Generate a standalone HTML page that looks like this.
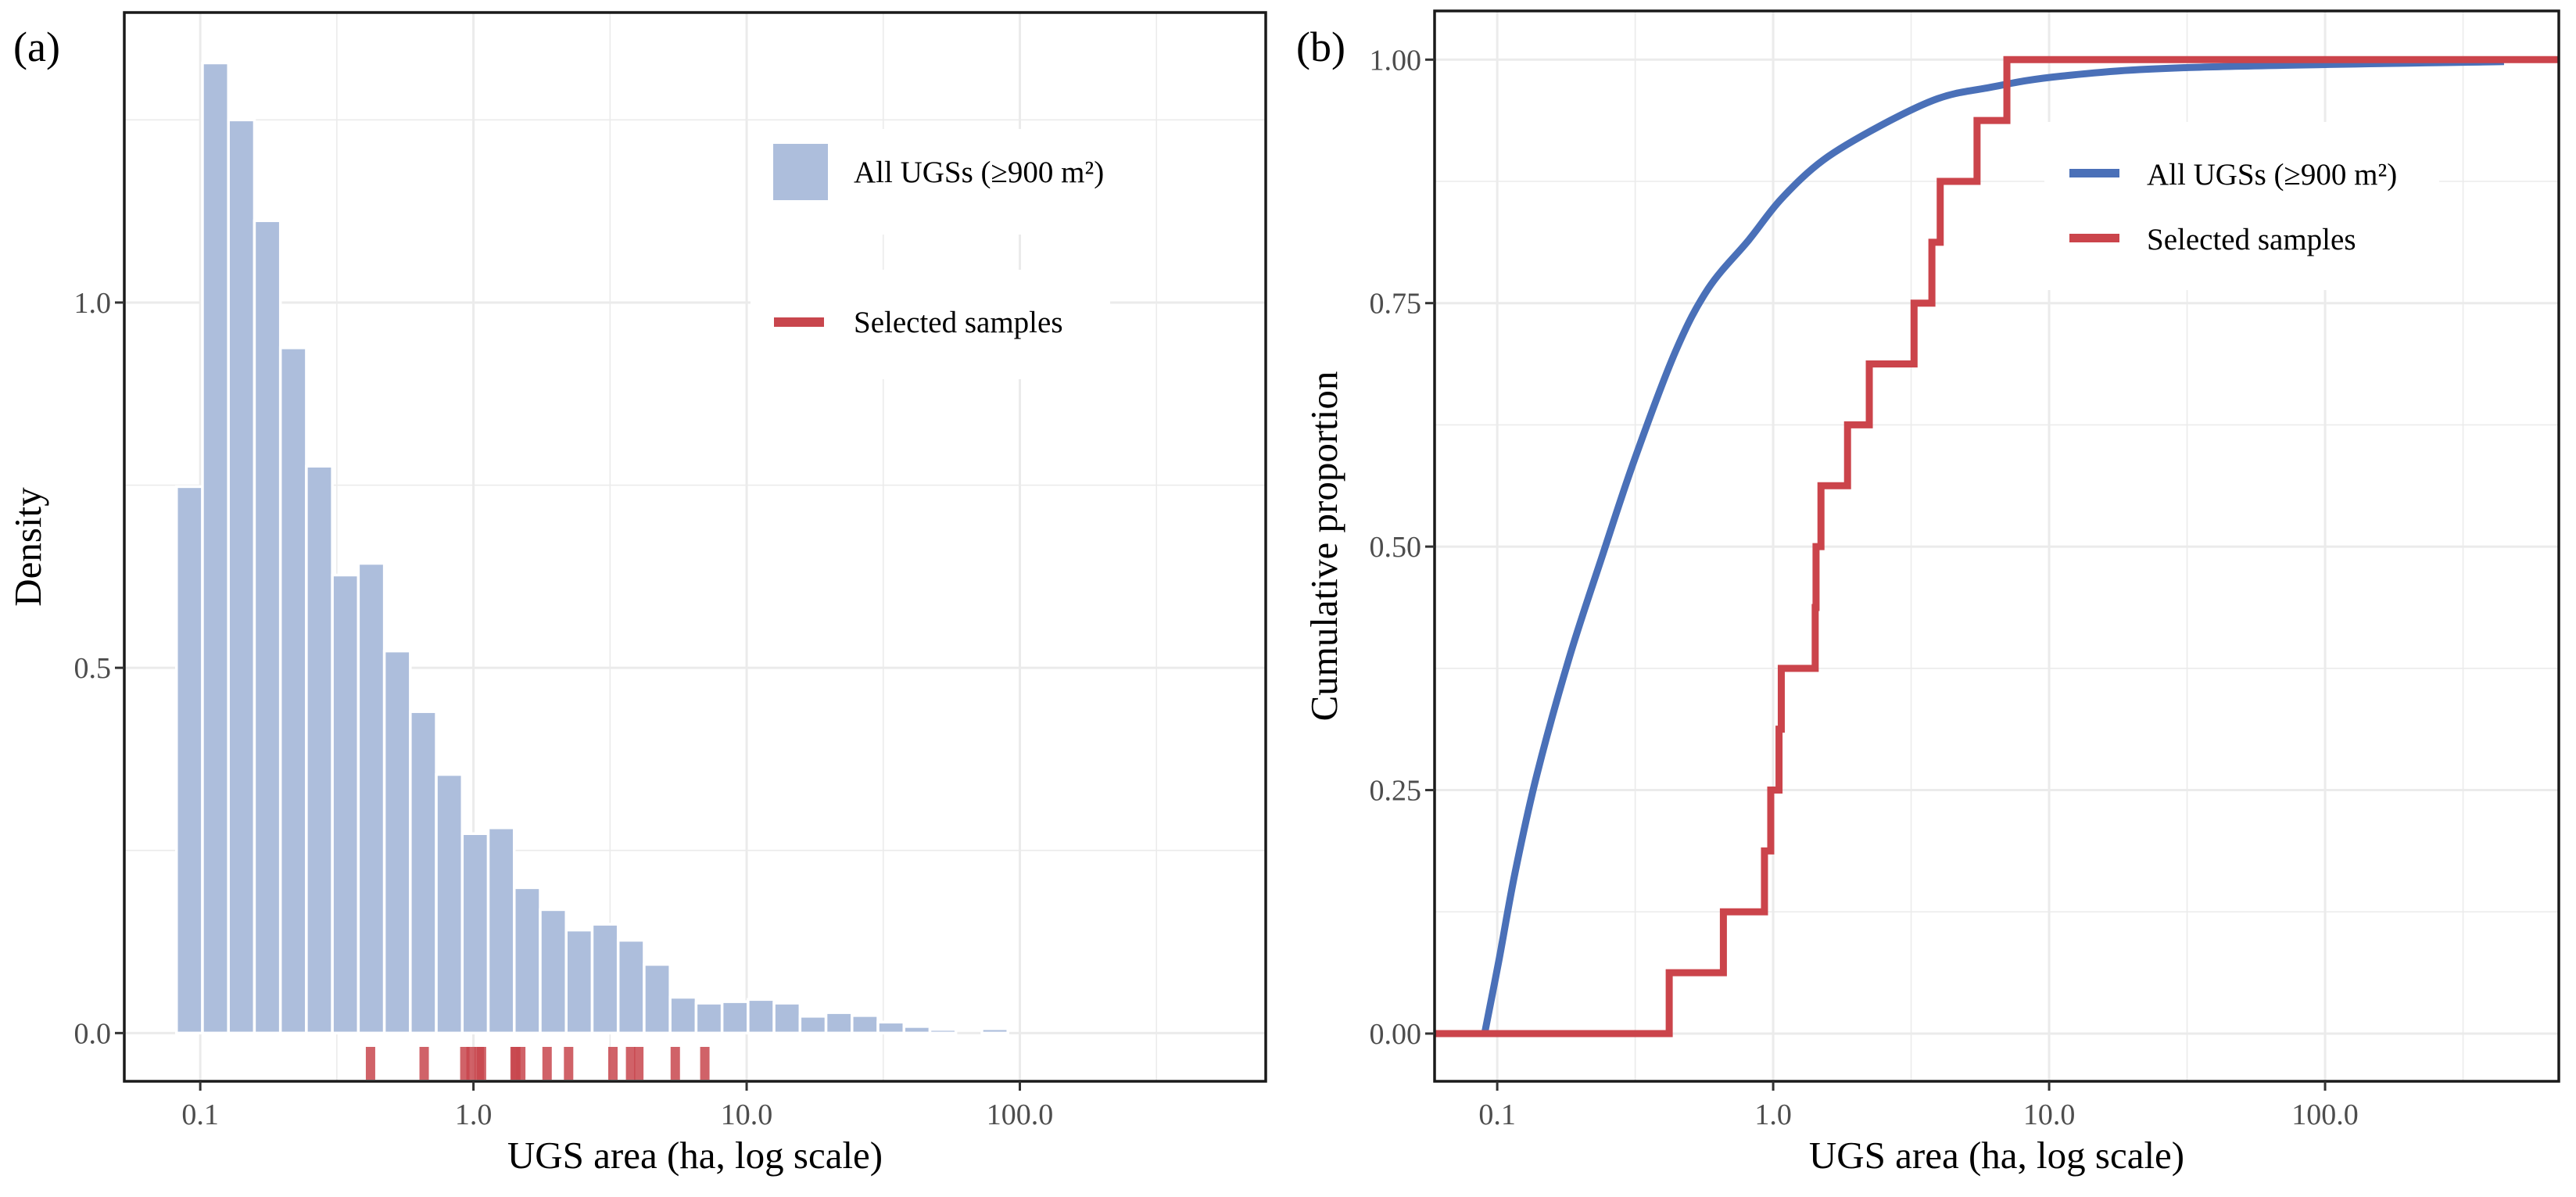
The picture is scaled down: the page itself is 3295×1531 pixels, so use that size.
<!DOCTYPE html>
<html><head><meta charset="utf-8">
<style>
html,body{margin:0;padding:0;background:#fff;}
svg{display:block;font-family:"Liberation Serif","Times New Roman",serif;}
</style></head>
<body>
<svg id="fig" width="3295" height="1531" viewBox="0 0 3295 1531" xmlns="http://www.w3.org/2000/svg">
  <g id="panelA"></g>
  <g id="panelB"></g>
</svg>
<script>
// ---- Panel (a) data ----
const histFirstEdgeLog = -1.087;
const histBinWidthLog = 0.0951;
const histDensity = [0.748,1.328,1.25,1.112,0.938,0.776,0.627,0.643,0.523,0.44,0.354,0.273,0.281,0.199,0.169,0.141,0.149,0.127,0.094,0.049,0.041,0.043,0.046,0.041,0.023,0.028,0.024,0.015,0.009,0.005,0,0.006];
const sampleAreas = [0.42,0.66,0.93,0.98,1.05,1.07,1.42,1.43,1.49,1.86,2.23,3.24,3.76,4.03,5.48,7.03];
const xTickValues = [0.1,1,10,100];
const xTickLabels = ["0.1","1.0","10.0","100.0"];
const yTicksA = [0,0.5,1.0];
const yTickLabelsA = ["0.0","0.5","1.0"];
// ---- Panel (b) data ----
const allCdfX = [0.090,0.1014,0.116,0.139,0.182,0.24,0.315,0.442,0.582,0.817,1.07,1.52,2.44,3.95,5.97,11,33,445];
const allCdfY = [0,0.075,0.165,0.265,0.385,0.49,0.59,0.70,0.765,0.815,0.857,0.897,0.932,0.96,0.971,0.983,0.992,0.998];
const yTicksB = [0,0.25,0.5,0.75,1.0];
const yTickLabelsB = ["0.00","0.25","0.50","0.75","1.00"];

const NS = "http://www.w3.org/2000/svg";
function mk(parent, tag, attrs, text){
  const e = document.createElementNS(NS, tag);
  for (const k in attrs) e.setAttribute(k, attrs[k]);
  if (text !== undefined) e.textContent = text;
  parent.appendChild(e);
  return e;
}

function panel(g, cfg){
  const {L,R,T,B,xLo,xHi,yLo,yHi} = cfg;
  const sx = v => L + (Math.log10(v) - xLo) / (xHi - xLo) * (R - L);
  const sxl = l => L + (l - xLo) / (xHi - xLo) * (R - L);
  const sy = v => B - (v - yLo) / (yHi - yLo) * (B - T);
  for (let d = Math.ceil(xLo*2)/2; d <= xHi; d += 0.5) {
    if (Math.abs(d - Math.round(d)) < 1e-6) continue;
    const l = mk(g,'line',{x1:sxl(d),x2:sxl(d),y1:T,y2:B,stroke:'#ebebeb','stroke-width':1.6});
    
    
  }
  cfg.yMinor.forEach(v=>{
    const l = mk(g,'line',{x1:L,x2:R,y1:sy(v),y2:sy(v),stroke:'#ebebeb','stroke-width':1.6});
    
    
  });
  for (let d = Math.ceil(xLo); d <= xHi; d++) {
    const l = mk(g,'line',{x1:sxl(d),x2:sxl(d),y1:T,y2:B,stroke:'#ebebeb','stroke-width':3});
    
    
  }
  cfg.yTicks.forEach(v=>{
    const l = mk(g,'line',{x1:L,x2:R,y1:sy(v),y2:sy(v),stroke:'#ebebeb','stroke-width':3});
    
    
  });
  return {sx, sxl, sy};
}

function frame(g, cfg, s){
  const {L,R,T,B} = cfg;
  const f = mk(g,'rect',{x:L,y:T,width:R-L,height:B-T,fill:'none',stroke:'#1a1a1a','stroke-width':3.5});
  
  
  xTickValues.forEach((v,i)=>{
    const x = s.sx(v);
    const t = mk(g,'line',{x1:x,x2:x,y1:B,y2:B+12,stroke:'#333','stroke-width':3});
    
    
    const lb = mk(g,'text',{x:x,y:B+55,'text-anchor':'middle','font-size':38,fill:'#4d4d4d'},xTickLabels[i]);
    
    
  });
  cfg.yTicks.forEach((v,i)=>{
    const y = s.sy(v);
    const t = mk(g,'line',{x1:L-12,x2:L,y1:y,y2:y,stroke:'#333','stroke-width':3});
    
    
    const lb = mk(g,'text',{x:L-17,y:y+13,'text-anchor':'end','font-size':38,fill:'#4d4d4d'},cfg.yLabels[i]);
    
    
  });
  const xt = mk(g,'text',{x:(L+R)/2,y:1494,'text-anchor':'middle','font-size':49,fill:'#000'},'UGS area (ha, log scale)');
  
  
  const yt = mk(g,'text',{x:0,y:0,'text-anchor':'middle','font-size':49,fill:'#000',transform:`translate(${cfg.yTitleX},${(T+B)/2}) rotate(-90)`},cfg.yTitle);
  
  
  const pl = mk(g,'text',{x:cfg.tagX,y:78,'font-size':54,fill:'#000'},cfg.tag);
  
  
}

// ===== Panel A =====
const gA = document.getElementById('panelA');
const cfgA = {L:159,R:1619,T:16,B:1383,xLo:-1.278,xHi:2.9,yLo:-0.066,yHi:1.397,
  yTicks:yTicksA,yLabels:yTickLabelsA,yMinor:[0.25,0.75,1.25],yTitle:'Density',yTitleX:52,tag:'(a)',tagX:17};
const sA = panel(gA,cfgA);
histDensity.forEach((d,i)=>{
  if (d <= 0) return;
  const l0 = histFirstEdgeLog + i*histBinWidthLog;
  const x0 = sA.sxl(l0), x1 = sA.sxl(l0 + histBinWidthLog);
  const r = mk(gA,'rect',{x:x0,y:sA.sy(d),width:x1-x0,height:sA.sy(0)-sA.sy(d),fill:'#adbedc',stroke:'#fff','stroke-width':3.5});
  
  
});
sampleAreas.forEach(v=>{
  const x = sA.sx(v);
  const r = mk(gA,'rect',{x:x-6,y:1339,width:12,height:42,fill:'#c8464d','fill-opacity':0.85});
  
  
});
const legA = mk(gA,'g',{});


let bg = mk(legA,'rect',{x:960,y:165,width:460,height:135,fill:'#fff'});


bg = mk(legA,'rect',{x:960,y:345,width:460,height:140,fill:'#fff'});


let k = mk(legA,'rect',{x:989,y:184,width:70,height:72,fill:'#adbedc'});


let tx = mk(legA,'text',{x:1092,y:233,'font-size':39,fill:'#000'},'All UGSs (≥900 m²)');


k = mk(legA,'rect',{x:990,y:406,width:64,height:12,fill:'#c8464d'});


tx = mk(legA,'text',{x:1092,y:425,'font-size':39,fill:'#000'},'Selected samples');


frame(gA,cfgA,sA);

// ===== Panel B =====
const gB = document.getElementById('panelB');
const cfgB = {L:1835,R:3273,T:14,B:1383,xLo:-1.227,xHi:2.847,yLo:-0.049,yHi:1.05,
  yTicks:yTicksB,yLabels:yTickLabelsB,yMinor:[0.125,0.375,0.625,0.875],yTitle:'Cumulative proportion',yTitleX:1710,tag:'(b)',tagX:1658};
const sB = panel(gB,cfgB);
const legB = mk(gB,'g',{});


bg = mk(legB,'rect',{x:2615,y:156,width:505,height:215,fill:'#fff'});


const pts = allCdfX.map((v,i)=>[sB.sx(v), sB.sy(allCdfY[i])]);
let dB = `M${sB.sxl(cfgB.xLo)},${sB.sy(0)} L${pts[0][0]},${pts[0][1]}`;
for (let i=0;i<pts.length-1;i++){
  const p0 = pts[Math.max(0,i-1)], p1 = pts[i], p2 = pts[i+1], p3 = pts[Math.min(pts.length-1,i+2)];
  const c1 = [p1[0]+(p2[0]-p0[0])/6, p1[1]+(p2[1]-p0[1])/6];
  const c2 = [p2[0]-(p3[0]-p1[0])/6, p2[1]-(p3[1]-p1[1])/6];
  dB += ` C${c1[0]},${c1[1]} ${c2[0]},${c2[1]} ${p2[0]},${p2[1]}`;
}
let p = mk(gB,'path',{d:dB,fill:'none',stroke:'#4a70b8','stroke-width':9,'stroke-linejoin':'round'});


const n = sampleAreas.length;
let dR = `M${cfgB.L},${sB.sy(0)}`;
sampleAreas.forEach((v,i)=>{
  const x = sB.sx(v);
  dR += ` H${x} V${sB.sy((i+1)/n)}`;
});
dR += ` H${cfgB.R}`;
p = mk(gB,'path',{d:dR,fill:'none',stroke:'#cb444b','stroke-width':9,'stroke-linejoin':'miter'});


k = mk(legB,'rect',{x:2647,y:216,width:64,height:11,fill:'#4a70b8'});


tx = mk(legB,'text',{x:2746,y:236,'font-size':39,fill:'#000'},'All UGSs (≥900 m²)');


k = mk(legB,'rect',{x:2647,y:299,width:64,height:11,fill:'#cb444b'});


tx = mk(legB,'text',{x:2746,y:319,'font-size':39,fill:'#000'},'Selected samples');


frame(gB,cfgB,sB);
</script>
</body></html>
